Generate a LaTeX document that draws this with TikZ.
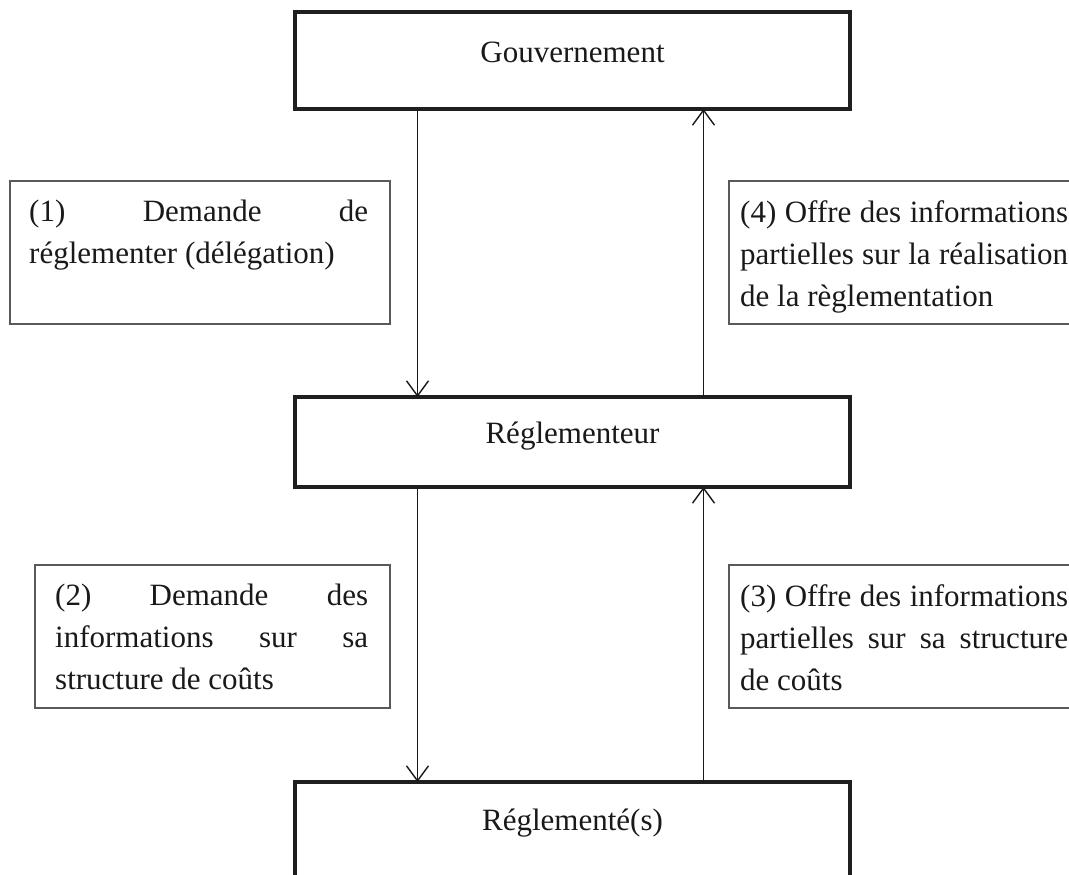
\documentclass[tikz,border=0pt]{standalone}
\usepackage{fontspec}
\setmainfont{Liberation Serif}
\usetikzlibrary{arrows.meta,calc}
\newcommand\mypenalties{\tolerance=10000\relax\hbadness=10000\relax\hyphenpenalty=10000\relax\exhyphenpenalty=10000\relax}
\begin{document}
\begin{tikzpicture}[x=1pt,y=1pt,
  txt/.style={font=\fontsize{31}{42}\selectfont\mypenalties, text=black!90},
  bigbox/.style={txt, draw=black!88, line width=4pt, outer sep=0pt, inner sep=0pt, minimum width=555pt, anchor=north},
  labframe/.style={draw=black!65, line width=1.3pt, outer sep=0pt, inner sep=0pt, anchor=north west},
  labtext/.style={txt, inner sep=0pt, anchor=north west, align=justify},
  arr/.style={line width=1.4pt, draw=black!90, -{Straight Barb[length=15pt,width=22pt]}}
]
\clip (0,0) rectangle (1069,-875);
% main boxes
\node[bigbox, text height=51pt, text depth=46pt] (gov) at (572.5,-12) {Gouvernement};
\node[bigbox, text height=46pt, text depth=44pt] (reg) at (572.5,-397) {Réglementeur};
\node[bigbox, text height=48pt, text depth=80pt] (regd) at (572.5,-782) {Réglementé(s)};
% label frames
\node[labframe, minimum width=380pt, minimum height=143pt] (f1) at (10,-181) {};
\node[labframe, minimum width=360pt, minimum height=143pt] (f4) at (729,-181) {};
\node[labframe, minimum width=355pt, minimum height=143pt] (f2) at (35,-565) {};
\node[labframe, minimum width=360pt, minimum height=143pt] (f3) at (729,-565) {};
% label texts
\node[labtext, text width=339pt] (t1) at ($(f1.north west)+(19,-19)$) {(1) Demande de\linebreak réglementer (délégation)};
\node[labtext, text width=328pt] (t4) at ($(f4.north west)+(11,-19)$) {(4) Offre des informations\linebreak partielles sur la réalisation\linebreak de la règlementation};
\node[labtext, text width=313pt] (t2) at ($(f2.north west)+(20,-19)$) {(2) Demande des\linebreak informations sur sa\linebreak structure de coûts};
\node[labtext, text width=328pt] (t3) at ($(f3.north west)+(11,-19)$) {(3) Offre des informations\linebreak partielles sur sa structure\linebreak de coûts};
% arrows
\draw[arr] ([xshift=-155pt]gov.south) -- ([xshift=-155pt]reg.north);
\draw[arr] ([xshift=131pt]reg.north) -- ([xshift=131pt]gov.south);
\draw[arr] ([xshift=-155pt]reg.south) -- ([xshift=-155pt]regd.north);
\draw[arr] ([xshift=131pt]regd.north) -- ([xshift=131pt]reg.south);
\end{tikzpicture}
\end{document}
